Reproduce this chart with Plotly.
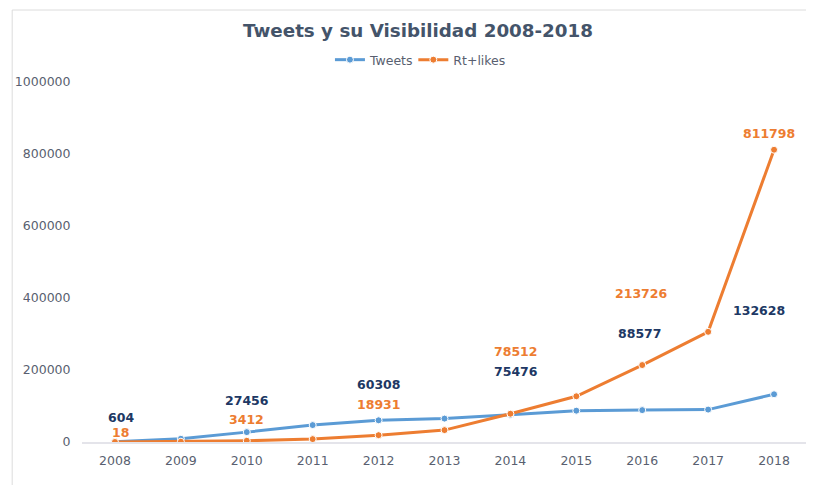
import plotly.graph_objects as go

years = [2008, 2009, 2010, 2011, 2012, 2013, 2014, 2015, 2016, 2017, 2018]
tweets = [604, 9000, 27456, 47000, 60308, 65000, 75476, 87000, 88577, 90000, 132628]
rt_likes = [18, 800, 3412, 8000, 18931, 33000, 78512, 127000, 213726, 306000, 811798]

# years that carry a data label
label_years = [2008, 2010, 2012, 2014, 2016, 2018]
# pixel offsets of the labels above their points (as in the original)
tweets_shift = [24, 32, 36, 43, 77, 84]
tweets_xshift = [6, 0, 0, 6, -2, -15]
rt_shift = [9, 21, 31, 62, 72, 16]
rt_xshift = [6, 0, 0, 6, -1, -5]

blue = "#5B9BD5"
orange = "#ED7D31"
navy = "#203864"
font = "DejaVu Sans"

fig = go.Figure()
fig.add_trace(go.Scatter(
    x=years, y=tweets, name="Tweets", mode="lines+markers",
    line=dict(color=blue, width=3), legend="legend",
    marker=dict(size=7, color=blue, line=dict(color="white", width=1)),
))
fig.add_trace(go.Scatter(
    x=years, y=rt_likes, name="Rt+likes", mode="lines+markers",
    line=dict(color=orange, width=3), legend="legend2",
    marker=dict(size=7, color=orange, line=dict(color="white", width=1)),
))

for i, yr in enumerate(label_years):
    k = years.index(yr)
    fig.add_annotation(x=yr, y=tweets[k], text="<b>%d</b>" % tweets[k],
                       showarrow=False, yshift=tweets_shift[i], xshift=tweets_xshift[i],
                       font=dict(family=font, size=12.5, color=navy))
    fig.add_annotation(x=yr, y=rt_likes[k], text="<b>%d</b>" % rt_likes[k],
                       showarrow=False, yshift=rt_shift[i], xshift=rt_xshift[i],
                       font=dict(family=font, size=12.5, color=orange))

# light frame round the chart
fig.add_shape(type="rect", xref="paper", yref="paper",
              x0=-0.0963, x1=1.03, y0=-0.2, y1=1.2,
              line=dict(color="#dcdcdc", width=1), layer="below")

leg = dict(orientation="h", xanchor="left", y=1.061, yanchor="middle",
           bgcolor="rgba(0,0,0,0)",
           font=dict(family=font, size=12.5, color="#595f70"), itemwidth=30)

# the page body has an 8px margin, so the figure is 8px smaller
fig.update_layout(
    width=806, height=477,
    margin=dict(l=72, r=7, t=74, b=43),
    paper_bgcolor="white", plot_bgcolor="white",
    font=dict(family=font, size=12.5, color="#595f70"),
    title=dict(text="<b>Tweets y su Visibilidad 2008-2018</b>",
               x=0.5087, xanchor="center", y=0.952, yanchor="middle",
               font=dict(family=font, size=18.3, color="#44546A")),
    legend=dict(leg, x=0.342),
    legend2=dict(leg, x=0.457),
    showlegend=True,
)
fig.update_xaxes(range=[2007.5, 2018.5], tickmode="array", tickvals=years,
                 showgrid=False, showline=True, linecolor="#e4e4ea", linewidth=1.5,
                 ticks="outside", ticklen=6, tickcolor="white", zeroline=False)
fig.update_yaxes(range=[0, 1000000], tickmode="array",
                 tickvals=[0, 200000, 400000, 600000, 800000, 1000000],
                 ticktext=["0", "200000", "400000", "600000", "800000", "1000000"],
                 showgrid=False, zeroline=False, showline=False,
                 ticks="outside", ticklen=8, tickcolor="white")

fig.write_html("out.html")
